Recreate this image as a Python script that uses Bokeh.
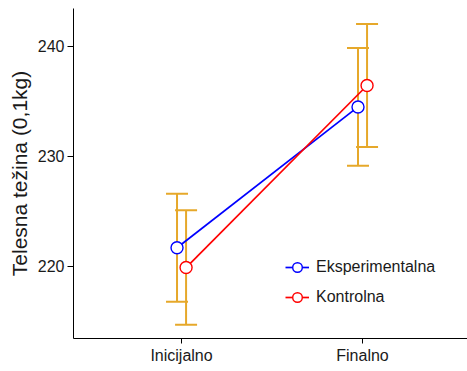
from bokeh.plotting import figure
from bokeh.models import FixedTicker, Legend, LegendItem, ColumnDataSource, Whisker
from bokeh.embed import file_html
from bokeh.resources import INLINE

categories = ["Inicijalno", "Finalno"]
groups = ["Eksperimentalna", "Kontrolna"]
exp_mean = [221.7, 234.5]
exp_err = [4.9, 5.35]
ctl_mean = [219.9, 236.45]
ctl_err = [5.2, 5.6]

colors = ["#0000ff", "#ff0000"]
err_color = "#e6a82a"
dodge = 0.025
FONT = "Liberation Sans"

p = figure(width=467, height=371, output_backend="svg", toolbar_location=None,
           x_range=(0.403, 2.58), y_range=(213.45, 243.45),
           min_border_left=73, min_border_right=0, min_border_top=8, min_border_bottom=33)
p.outline_line_color = None
p.grid.visible = False
p.background_fill_color = "white"

for ax in (p.xaxis[0], p.yaxis[0]):
    ax.axis_line_color = "black"
    ax.axis_line_width = 1
    ax.major_tick_line_color = "black"
    ax.minor_tick_line_color = None
    ax.major_tick_out = 6
    ax.major_tick_in = 0
    ax.major_label_text_font = FONT
    ax.major_label_text_color = "#1a1a1a"
    ax.major_label_text_font_size = "16px"
    ax.major_label_standoff = 3

p.xaxis.ticker = FixedTicker(ticks=[1, 2])
p.xaxis.major_label_overrides = {1: categories[0], 2: categories[1]}
p.xaxis.major_tick_out = 5
p.yaxis.ticker = FixedTicker(ticks=[220, 230, 240])
p.yaxis.axis_label = "Telesna težina (0,1kg)"
p.yaxis.axis_label_text_font = FONT
p.yaxis.axis_label_text_font_style = "normal"
p.yaxis.axis_label_text_color = "#1a1a1a"
p.yaxis.axis_label_text_font_size = "21px"
p.yaxis.axis_label_standoff = 4

items = []
for gi, (means, errs) in enumerate([(exp_mean, exp_err), (ctl_mean, ctl_err)]):
    off = -dodge if gi == 0 else dodge
    xs = [i + 1 + off for i in range(len(categories))]
    src = ColumnDataSource(dict(x=xs, y=means,
                                lo=[m - e for m, e in zip(means, errs)],
                                hi=[m + e for m, e in zip(means, errs)]))
    ln = p.line("x", "y", source=src, color=colors[gi], line_width=1.7)
    sc = p.scatter("x", "y", source=src, size=12, marker="circle",
                   line_color=colors[gi], fill_color="white", line_width=1.4)
    w = Whisker(base="x", lower="lo", upper="hi", source=src, dimension="height",
                line_color=err_color, line_width=2)
    w.upper_head.line_color = err_color
    w.lower_head.line_color = err_color
    w.upper_head.line_width = 2
    w.lower_head.line_width = 2
    w.upper_head.size = 22
    w.lower_head.size = 22
    p.add_layout(w)
    items.append(LegendItem(label=groups[gi], renderers=[ln, sc]))

leg = Legend(items=items, location=(212, 28), padding=0, margin=0, spacing=4,
             glyph_width=24, glyph_height=26, label_standoff=7,
             label_text_font=FONT, label_text_font_size="16px",
             label_text_color="#1a1a1a",
             border_line_color=None, background_fill_alpha=0)
p.add_layout(leg, "center")

open("out.html", "w").write(file_html(p, INLINE))
